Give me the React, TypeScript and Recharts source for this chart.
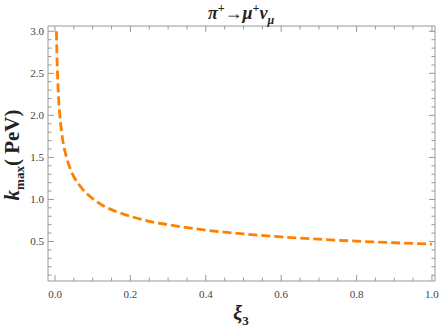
import { Line, LineChart, XAxis, YAxis } from "recharts";

// xi_3 values and k_max (PeV)
const xiValues = [
	0.0038, 0.005, 0.006, 0.008, 0.01, 0.015, 0.02, 0.03, 0.04, 0.05, 0.07, 0.1,
	0.13, 0.16, 0.2, 0.25, 0.3, 0.35, 0.4, 0.5, 0.6, 0.7, 0.8, 0.9, 1.0,
];
const kMaxValues = [
	3.0, 2.74, 2.58, 2.34, 2.17, 1.9, 1.72, 1.51, 1.37, 1.27, 1.14, 1.01, 0.92,
	0.86, 0.8, 0.74, 0.7, 0.665, 0.635, 0.59, 0.555, 0.527, 0.504, 0.485, 0.468,
];

const xTicks = Array.from({ length: 21 }, (_, i) => i * 0.05);
const yTicks = Array.from({ length: 30 }, (_, i) => (i + 1) * 0.1);

const data = xiValues.map((xi, i) => ({ xi, k: kMaxValues[i] }));

const FRAME = "#999999";
const LABEL = "#444444";
const SERIF = "'Liberation Serif', 'DejaVu Serif', serif";

const isMajor = (v: number, step: number) =>
	Math.abs(v / step - Math.round(v / step)) < 1e-6;

const makeTick =
	(side: "bottom" | "top" | "left" | "right", step: number, label: boolean) =>
	(props: any) => {
		const { x, y, payload } = props;
		const major = isMajor(payload.value, step);
		const len = major ? 6 : 3.5;
		let line;
		if (side === "bottom") line = <line x1={x} y1={y} x2={x} y2={y - len} />;
		else if (side === "top") line = <line x1={x} y1={y} x2={x} y2={y + len} />;
		else if (side === "left") line = <line x1={x} y1={y} x2={x + len} y2={y} />;
		else line = <line x1={x} y1={y} x2={x - len} y2={y} />;
		return (
			<g stroke={FRAME} strokeWidth={1}>
				{line}
				{label && major && side === "bottom" && (
					<text x={x} y={y + 17} textAnchor="middle" stroke="none" fill={LABEL} fontSize={11} fontFamily={SERIF}>
						{payload.value.toFixed(1)}
					</text>
				)}
				{label && major && side === "left" && (
					<text x={x - 4} y={y + 4} textAnchor="end" stroke="none" fill={LABEL} fontSize={11} fontFamily={SERIF}>
						{payload.value.toFixed(1)}
					</text>
				)}
			</g>
		);
	};

export default function App() {
	return (
		<div style={{ position: "absolute", left: 0, top: 0, width: 440, height: 329, background: "#fff" }}>
			<LineChart
				width={440}
				height={329}
				data={data}
				margin={{ top: 25, right: 4, bottom: 47, left: 47 }}
			>
				<XAxis
					xAxisId="b"
					type="number"
					dataKey="xi"
					domain={[-0.0186, 1.008]}
					ticks={xTicks}
					interval={0}
					height={1}
					tickSize={0}
					tickMargin={0}
					stroke={FRAME}
					tick={makeTick("bottom", 0.2, true)}
					allowDataOverflow
				/>
				<XAxis
					xAxisId="t"
					orientation="top"
					type="number"
					dataKey="xi"
					domain={[-0.0186, 1.008]}
					ticks={xTicks}
					interval={0}
					height={1}
					tickSize={0}
					tickMargin={0}
					stroke={FRAME}
					tick={makeTick("top", 0.2, false)}
					allowDataOverflow
				/>
				<YAxis
					yAxisId="l"
					type="number"
					domain={[0.03, 3.063]}
					ticks={yTicks}
					interval={0}
					width={1}
					tickSize={0}
					tickMargin={0}
					stroke={FRAME}
					tick={makeTick("left", 0.5, true)}
					allowDataOverflow
				/>
				<YAxis
					yAxisId="r"
					orientation="right"
					type="number"
					domain={[0.03, 3.063]}
					ticks={yTicks}
					interval={0}
					width={1}
					tickSize={0}
					tickMargin={0}
					stroke={FRAME}
					tick={makeTick("right", 0.5, false)}
					allowDataOverflow
				/>
				<Line
					xAxisId="b"
					yAxisId="l"
					type="monotone"
					dataKey="k"
					stroke="#FF8000"
					strokeWidth={2.8}
					strokeDasharray="9 4"
					dot={false}
					isAnimationActive={false}
				/>
			</LineChart>
			<div
				style={{
					position: "absolute",
					left: 141,
					width: 200,
					top: 1,
					textAlign: "center",
					fontFamily: SERIF,
					fontWeight: "bold",
					fontStyle: "italic",
					fontSize: 18,
					color: "#222",
				}}
			>
				π<sup style={{ fontSize: 12 }}>+</sup>→μ<sup style={{ fontSize: 12 }}>+</sup>ν<sub style={{ fontSize: 12 }}>μ</sub>
			</div>
			<div
				style={{
					position: "absolute",
					left: 141,
					width: 200,
					top: 302,
					textAlign: "center",
					fontFamily: SERIF,
					fontWeight: "bold",
					fontSize: 20,
					color: "#222",
				}}
			>
				<i>ξ</i>
				<sub style={{ fontSize: 13 }}>3</sub>
			</div>
			<div
				style={{
					position: "absolute",
					left: 14,
					top: 155,
					transform: "translate(-50%, -50%) rotate(-90deg)",
					whiteSpace: "nowrap",
					fontFamily: SERIF,
					fontWeight: "bold",
					fontSize: 21,
					color: "#222",
				}}
			>
				<i>k</i>
				<sub style={{ fontSize: 13 }}>max</sub>( PeV)
			</div>
		</div>
	);
}
